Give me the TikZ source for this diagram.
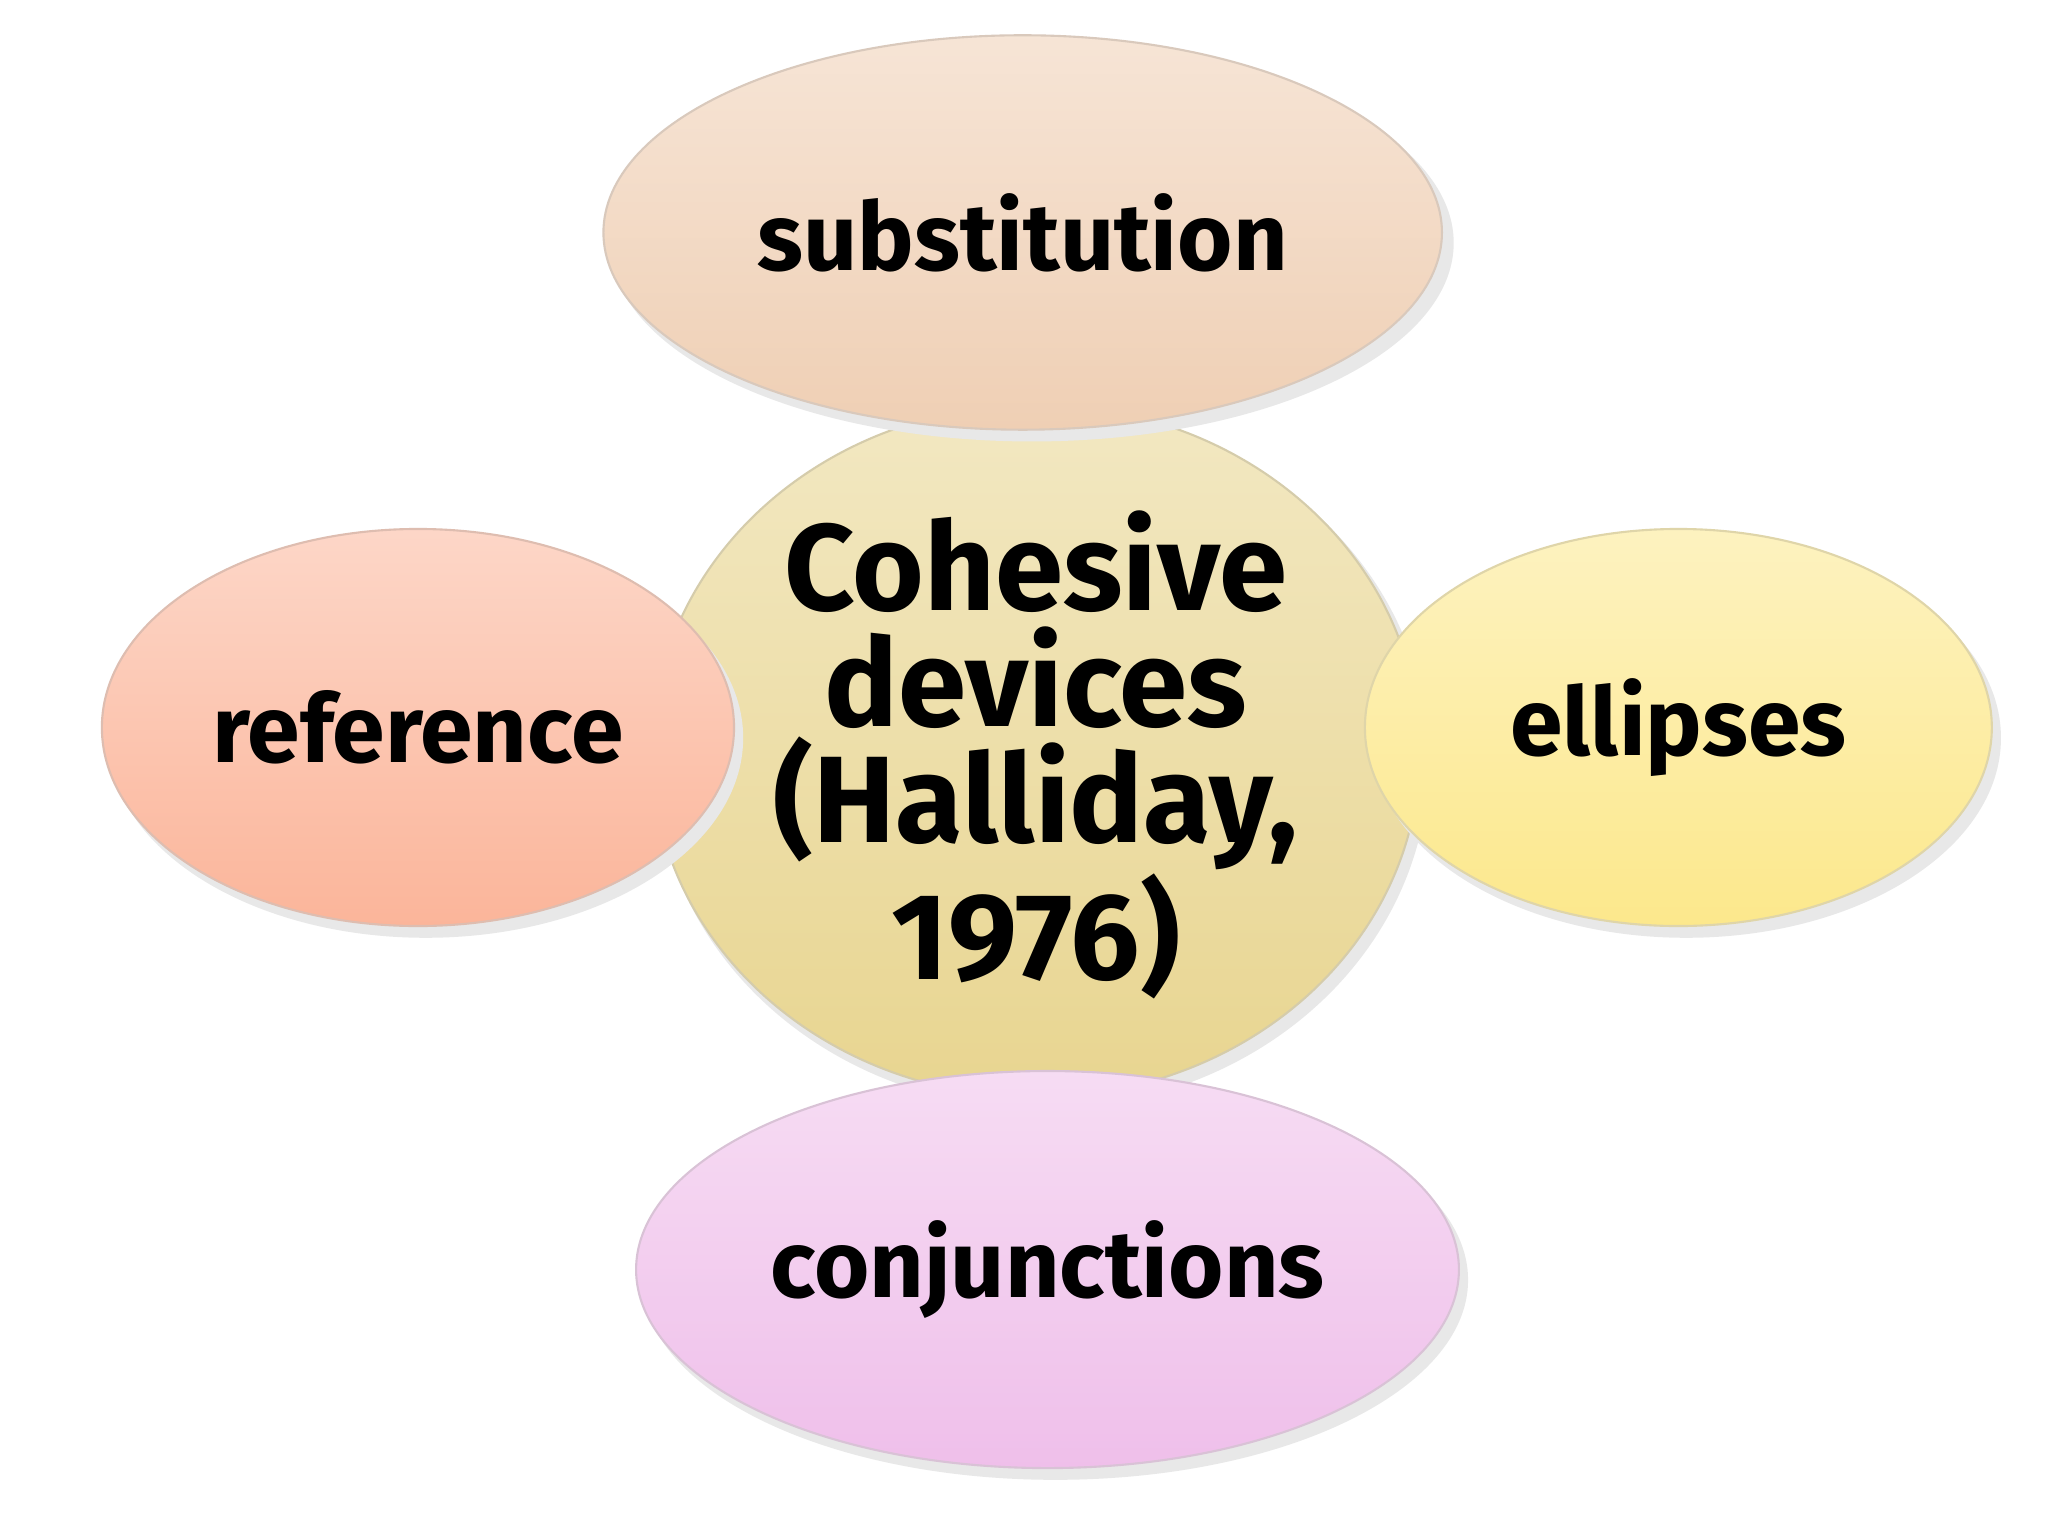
\documentclass[tikz,border=0pt]{standalone}
\usepackage{fontspec}
\setmainfont{Fira Sans}
\tikzset{
 bub/.style={draw=#1!80!black!60, line width=0.6pt, top color=#1!55!white, bottom color=#1},
 lab/.style={font=\fontsize{27}{30}\selectfont\bfseries, text=black, align=center},
 shad/.style={fill=black!9}
}
\definecolor{cc}{HTML}{E8D590}
\definecolor{sc}{HTML}{EFCFB4}
\definecolor{rc}{HTML}{FBB59A}
\definecolor{ec}{HTML}{FCE88C}
\definecolor{jc}{HTML}{EFBFEA}
\begin{document}
\begin{tikzpicture}[x=0.01306cm,y=-0.01306cm]
\useasboundingbox[fill=white] (0,0) rectangle (1568,1176);
% center
\fill[shad] (798,582) ellipse [x radius=296, y radius=267];
\path[bub=cc] (793,575) ellipse [x radius=294, y radius=265];
\node[lab, font=\fontsize{35}{33}\selectfont\bfseries] (c) at (793,578) {Cohesive\\devices\\(Halliday,\\1976)};
% substitution
\fill[shad] (790,186) ellipse [x radius=323, y radius=152];
\path[bub=sc] (783,178) ellipse [x radius=321, y radius=151];
\node[lab] (s) at (783,178) {substitution};
% reference
\fill[shad] (326,565) ellipse [x radius=243, y radius=153];
\path[bub=rc] (320,557) ellipse [x radius=242, y radius=152];
\node[lab] (r) at (320,557) {reference};
% ellipses
\fill[shad] (1291,565) ellipse [x radius=241, y radius=153];
\path[bub=ec] (1285,557) ellipse [x radius=240, y radius=152];
\node[lab] (e) at (1285,557) {ellipses};
% conjunctions
\fill[shad] (808,980) ellipse [x radius=316, y radius=153];
\path[bub=jc] (802,972) ellipse [x radius=315, y radius=152];
\node[lab] (j) at (802,972) {conjunctions};
\end{tikzpicture}
\end{document}
